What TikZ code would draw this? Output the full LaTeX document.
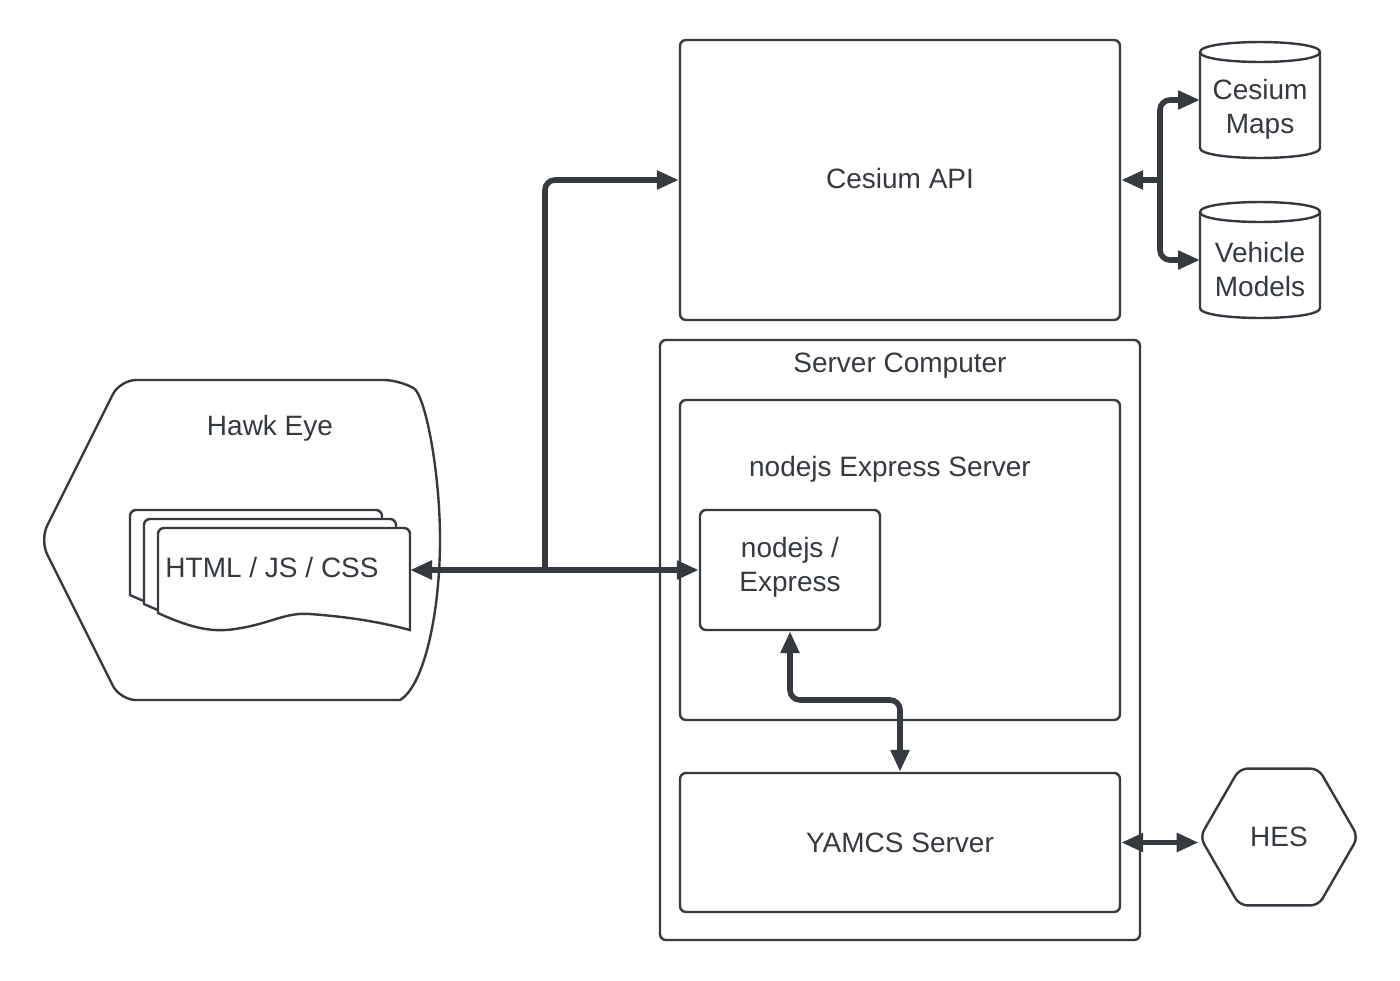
\documentclass[tikz,border=0pt]{standalone}
\usepackage{fontspec}
\setmainfont{Liberation Sans}
\usetikzlibrary{arrows.meta,shapes.geometric,positioning}
\definecolor{ink}{RGB}{52,58,64}
\tikzset{
    box/.style={draw=ink, line width=1.2pt, rounded corners=3pt, inner sep=0pt},
    edge/.style={draw=ink, line width=1.2pt},
    link/.style={draw=ink, line width=2.8pt, rounded corners=5pt},
    >={Triangle[length=11pt,width=9pt]}
}

\begin{document}
\begin{tikzpicture}[x=0.5pt,y=-0.5pt,text=ink,font=\fontsize{14}{17}\selectfont,align=center]
        \useasboundingbox (0,0) rectangle (1400,980);
        \draw[edge] (400,700) [rounded corners=8pt] -- (120,700) -- (40,540)
        -- (120,380) -- (400,380) [sharp corners] .. controls (425,395) and (440,470) .. (440,540)
        .. controls (440,610) and (425,685) .. (400,700) -- cycle;
        \node (hawk) at (270,428) {Hawk Eye};
        \foreach \dx/\dy in {-28/-18,-14/-9,0/0}
            \draw[edge,fill=white,shift={(\dx,\dy)}] (158,613) [rounded corners=3pt]
            -- (158,528) -- (410,528) [sharp corners] -- (410,630)
            .. controls (380,622) and (350,617) .. (310,614)
            .. controls (285,612) and (270,624) .. (235,629)
            .. controls (215,632) and (195,630) .. (158,613) -- cycle;
        \node (html) at (272,567) {HTML / JS / CSS};
        \node[box,minimum width=220pt,minimum height=140pt] (cesium) at (900,180) {};
        \node (cesiumtitle) at (900,178) {Cesium API};
        \node[box,minimum width=240pt,minimum height=300pt] (server) at (900,640) {};
        \node (servertitle) at (900,366) {Server Computer};
        \node[box,minimum width=220pt,minimum height=160pt] (express) at (900,560) {};
        \node (expresstitle) at (890,469) {nodejs Express Server};
        \node[box,minimum width=90pt,minimum height=60pt] (nodejs) at (790,570) {};
        \node (nodejstitle) at (790,567) {nodejs /\\Express};
        \node[box,minimum width=220pt,minimum height=69.5pt] (yamcs) at (900,842.5) {YAMCS Server};
        \node[draw=ink,line width=1.2pt,regular polygon,regular polygon sides=6,minimum size=79pt,
        inner sep=0pt,rounded corners=4pt] (hes) at (1279,837) {HES};
        \foreach \cy/\name in {100/maps,260/models} {
            \draw[edge] (1200,\cy-48) -- (1200,\cy+48)
            .. controls (1200,\cy+61.3) and (1320,\cy+61.3) .. (1320,\cy+48) -- (1320,\cy-48)
            .. controls (1320,\cy-61.3) and (1200,\cy-61.3) .. (1200,\cy-48)
            .. controls (1200,\cy-34.7) and (1320,\cy-34.7) .. (1320,\cy-48);
            \coordinate (\name) at (1200,\cy);
        }
        \node (mapstitle) at (1260,109) {Cesium\\Maps};
        \node (modelstitle) at (1260,269) {Vehicle\\Models};
        \coordinate (htmlport) at (410,570);
        \coordinate (fork) at (545,570);
        \coordinate (split) at (1160,180);
        \coordinate (bend) at (900,700);
        \draw[link,<->] (htmlport) -- (nodejs.west);
        \draw[link,->] (fork) |- (cesium.west);
        \draw[link,->] (split) -- (cesium.east);
        \draw[link,->] (split) |- (maps);
        \draw[link,->] (split) |- (models);
        \draw[link,<->] (nodejs.south) |- (bend) -- (yamcs.north);
        \draw[link,<->] (yamcs.east) -- (yamcs.east -| hes.west);
    \end{tikzpicture}
\end{document}
